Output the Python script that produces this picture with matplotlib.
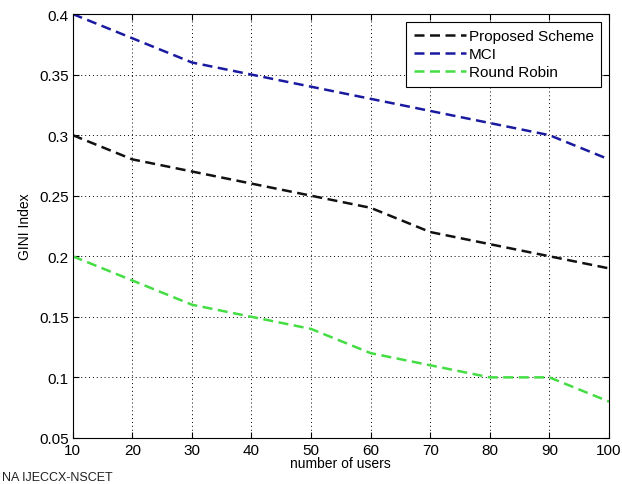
import matplotlib
matplotlib.use("Agg")
import matplotlib.pyplot as plt

users = [10, 20, 30, 40, 50, 60, 70, 80, 90, 100]
proposed = [0.30, 0.28, 0.27, 0.26, 0.25, 0.24, 0.22, 0.21, 0.20, 0.19]
mci = [0.40, 0.38, 0.36, 0.35, 0.34, 0.33, 0.32, 0.31, 0.30, 0.28]
round_robin = [0.20, 0.18, 0.16, 0.15, 0.14, 0.12, 0.11, 0.10, 0.10, 0.08]
y_ticks = [0.05, 0.1, 0.15, 0.2, 0.25, 0.3, 0.35, 0.4]
y_labels = ["0.05", "0.1", "0.15", "0.2", "0.25", "0.3", "0.35", "0.4"]

plt.rcParams['font.family'] = ['Liberation Sans', 'DejaVu Sans']

fig = plt.figure(figsize=(6.22, 4.85), dpi=100)
ax = fig.add_axes([0.117, 0.095, 0.862, 0.874])

dash = (0, (4, 2.2))
ax.plot(users, proposed, color="#111111", ls=dash, lw=1.8, label="Proposed Scheme")
ax.plot(users, mci, color="#1a1aa0", ls=dash, lw=1.8, label="MCI")
ax.plot(users, round_robin, color="#44dd44", ls=dash, lw=1.8, label="Round Robin")

ax.set_xlim(10, 100)
ax.set_ylim(0.05, 0.4)
ax.set_xticks(users)
ax.set_yticks(y_ticks)
ax.set_yticklabels(y_labels)
ax.tick_params(direction="in", labelsize=11, length=4, top=True, right=True)
ax.tick_params(axis="x", pad=4)
ax.tick_params(axis="y", pad=3)
ax.grid(True, ls=(0, (1, 3)), color="black", lw=0.7)
ax.set_xlabel("number of users", fontsize=10, labelpad=-1)
ax.set_ylabel("GINI Index", fontsize=10, labelpad=5)
for s in ax.spines.values():
    s.set_linewidth(0.8)

leg = ax.legend(loc="upper right", fontsize=11, fancybox=False, framealpha=1,
                edgecolor="black", handlelength=3.4, handletextpad=0.2,
                labelspacing=0.25, borderpad=0.5, borderaxespad=0.5)
leg.get_frame().set_linewidth(0.8)

fig.text(0.003, 0.002, "NA IJECCX-NSCET", fontsize=9, color="#222222", va="bottom")

fig.savefig("out.png", dpi=100)
